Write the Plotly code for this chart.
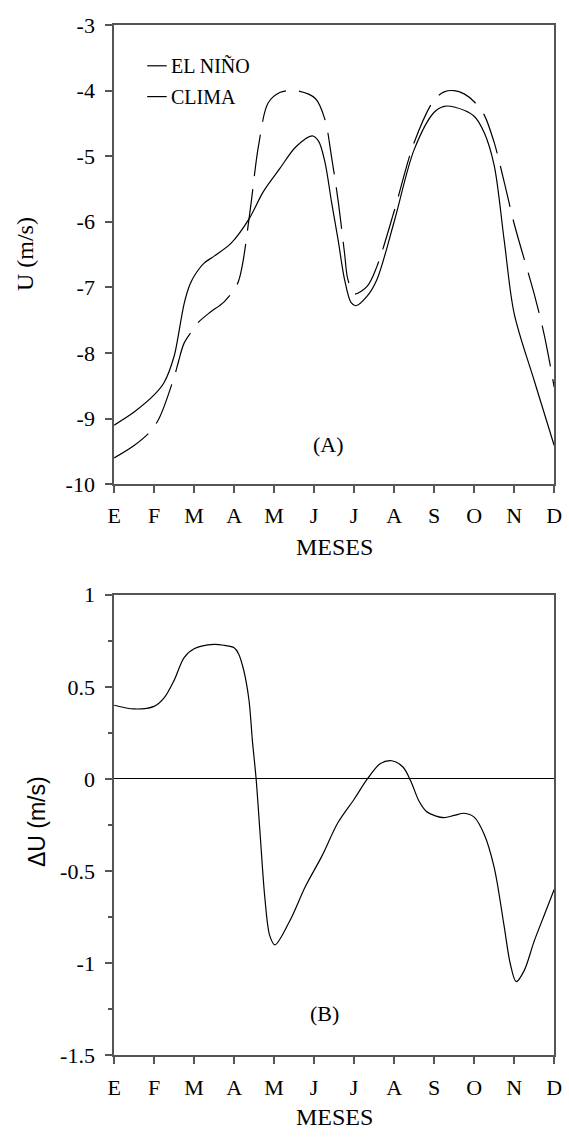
import plotly.graph_objects as go

# Month axis (E = enero ... D = diciembre), x measured in months from E
months = ["E", "F", "M", "A", "M", "J", "J", "A", "S", "O", "N", "D"]
month_pos = list(range(12))

# Panel A: zonal wind U (m/s)
x_nino = [0, 0.5, 1, 1.25, 1.5, 1.6, 1.75, 1.9, 2.03, 2.25, 2.51, 2.92, 3.37,
          3.73, 4.14, 4.54, 4.95, 5.11, 5.27, 5.43, 5.6, 5.76, 5.92, 6.04,
          6.33, 6.57, 7, 7.5, 8, 8.25, 8.5, 9, 9.25, 9.5, 9.75, 10, 10.5, 11]
u_nino = [-9.1, -8.9, -8.64, -8.45, -8.05, -7.75, -7.25, -6.95, -6.8, -6.63,
          -6.52, -6.33, -5.96, -5.54, -5.19, -4.86, -4.69, -4.77, -5.09, -5.68,
          -6.28, -6.88, -7.23, -7.28, -7.13, -6.88, -6.0, -4.9, -4.33, -4.24,
          -4.25, -4.39, -4.64, -5.14, -6.28, -7.4, -8.42, -9.41]

x_clima = [0, 0.5, 0.9, 1.13, 1.5, 1.61, 1.75, 2, 2.11, 2.4, 2.75, 3.08, 3.2,
           3.41, 3.61, 3.85, 4.14, 4.54, 5.03, 5.27, 5.43, 5.6, 5.76, 5.84,
           6.0, 6.33, 6.57, 7, 7.5, 8, 8.25, 8.5, 8.75, 9, 9.25, 9.5, 9.75,
           10, 10.5, 10.75, 11]
u_clima = [-9.6, -9.41, -9.2, -8.99, -8.37, -8.13, -7.85, -7.62, -7.53, -7.38,
           -7.22, -6.95, -6.68, -5.78, -4.84, -4.19, -4.03, -4.0, -4.12, -4.44,
           -4.99, -5.68, -6.48, -6.87, -7.1, -6.98, -6.68, -5.84, -4.79, -4.14,
           -4.02, -4.0, -4.05, -4.17, -4.37, -4.79, -5.39, -6.03, -7.1, -7.72,
           -8.52]

# Panel B: anomaly dU (m/s)
x_du = [0, 0.5, 1, 1.25, 1.5, 1.75, 2, 2.5, 2.75, 3, 3.11, 3.24, 3.37, 3.46,
        3.55, 3.65, 3.77, 3.89, 4.02, 4.38, 4.79, 5.19, 5.6, 6.0, 6.33, 6.65,
        6.94, 7.22, 7.42, 7.62, 7.8, 8.03, 8.25, 8.5, 8.75, 9, 9.25, 9.5,
        9.75, 9.9, 10.05, 10.25, 10.5, 10.75, 11]
du = [0.4, 0.38, 0.394, 0.44, 0.535, 0.659, 0.707, 0.73, 0.725, 0.712, 0.68,
      0.59, 0.43, 0.2, 0.0, -0.30, -0.65, -0.85, -0.9, -0.775, -0.58, -0.42,
      -0.235, -0.11, 0.0, 0.083, 0.099, 0.065, -0.014, -0.12, -0.175, -0.2,
      -0.21, -0.198, -0.186, -0.207, -0.30, -0.48, -0.8, -1.0, -1.1, -1.04,
      -0.88, -0.74, -0.6]

u_ticks = [-10, -9, -8, -7, -6, -5, -4, -3]
du_ticks = [-1.5, -1, -0.5, 0, 0.5, 1]

W, H = 569, 1144
SERIF = "Liberation Serif, Times New Roman, serif"
SANS = "Liberation Sans, Arial, sans-serif"
AXC = "#555555"


def px_x(p):
    return p / W


def px_y(p):
    return 1 - p / H


fig = go.Figure()
fig.add_trace(go.Scatter(x=x_nino, y=u_nino, mode="lines", name="EL NIÑO",
                         line=dict(color="black", width=1.2, shape="spline", smoothing=0.9),
                         xaxis="x", yaxis="y", showlegend=False))
fig.add_trace(go.Scatter(x=x_clima, y=u_clima, mode="lines", name="CLIMA",
                         line=dict(color="black", width=1.2, dash="42px,13px",
                                   shape="spline", smoothing=0.9),
                         xaxis="x", yaxis="y", showlegend=False))
fig.add_trace(go.Scatter(x=x_du, y=du, mode="lines", name="ΔU",
                         line=dict(color="black", width=1.2, shape="spline", smoothing=0.9),
                         xaxis="x2", yaxis="y2", showlegend=False))

xdom = [px_x(110), px_x(562)]
common_x = dict(range=[0, 11], tickvals=month_pos, ticktext=months,
                showline=True, linecolor=AXC, linewidth=1.5, mirror=True,
                ticks="outside", ticklen=7, tickcolor=AXC, tickwidth=1.5,
                showgrid=False, zeroline=False, ticklabelstandoff=4,
                ticklabeloverflow="allow",
                tickfont=dict(family=SERIF, size=22, color="black"))
common_y = dict(showline=True, linecolor=AXC, linewidth=1.5, mirror=True,
                ticks="outside", ticklen=7, tickcolor=AXC, tickwidth=1.5,
                showgrid=False, ticklabelstandoff=6, ticklabeloverflow="allow",
                tickfont=dict(family=SERIF, size=22, color="black"))

fig.update_layout(
    width=W, height=H, margin=dict(l=0, r=0, t=0, b=0),
    paper_bgcolor="white", plot_bgcolor="white",
    xaxis=dict(domain=xdom, anchor="y", **common_x),
    yaxis=dict(domain=[px_y(482.7), px_y(13.3)], anchor="x", range=[-10, -3],
               tickvals=u_ticks, ticktext=[str(v) for v in u_ticks],
               zeroline=False, **common_y),
    xaxis2=dict(domain=xdom, anchor="y2", **common_x),
    yaxis2=dict(domain=[px_y(1066.7), px_y(595.7)], anchor="x2", range=[-1.5, 1],
                tickvals=du_ticks, ticktext=["-1.5", "-1", "-0.5", "0", "0.5", "1"],
                zeroline=True, zerolinecolor="black", zerolinewidth=1.2,
                minor=dict(dtick=0.25, ticks="outside", ticklen=4, tickcolor=AXC),
                **common_y),
    showlegend=False,
)


def label(text, x, y, size, family=SERIF, angle=0, xanchor="center"):
    return dict(text=text, x=px_x(x), y=px_y(y), xref="paper", yref="paper",
                xanchor=xanchor, yanchor="middle", showarrow=False,
                textangle=angle, font=dict(family=family, size=size, color="black"))


ann = [
    label("MESES", 336, 546.7, 24),
    label("MESES", 336, 1130, 24),
    label("U (m/s)", 18, 248, 24, angle=-90),
    label("ΔU (m/s)", 31, 828, 23, family=SANS, angle=-90),
]
# panel labels in data coordinates
ann.append(dict(text="(A)", x=5.35, y=-9.4, xref="x", yref="y", showarrow=False,
                xanchor="center", yanchor="middle",
                font=dict(family=SERIF, size=22, color="black")))
ann.append(dict(text="(B)", x=5.25, y=-1.273, xref="x2", yref="y2", showarrow=False,
                xanchor="center", yanchor="middle",
                font=dict(family=SERIF, size=22, color="black")))
# legend
for name, yy in (("EL NIÑO", 55), ("CLIMA", 86.5)):
    ann.append(label(name, 166, yy, 20, xanchor="left"))
    fig.add_shape(type="line", xref="paper", yref="paper",
                  x0=px_x(144), x1=px_x(164), y0=px_y(yy), y1=px_y(yy),
                  line=dict(color="black", width=1.2))

fig.update_layout(annotations=ann)
fig.write_html("out.html")
